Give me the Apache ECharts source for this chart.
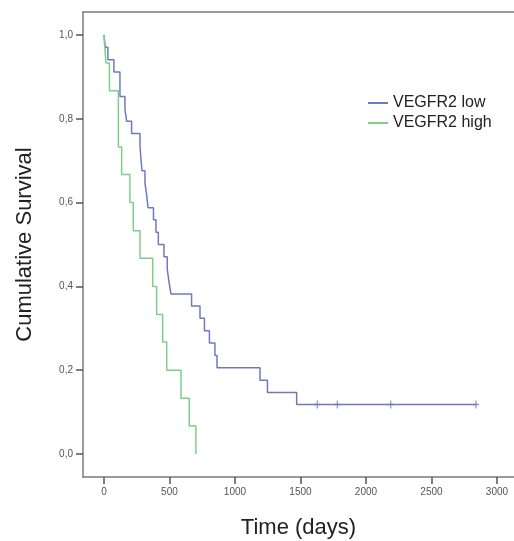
<!DOCTYPE html>
<html>
<head>
<meta charset="utf-8">
<script src="https://cdn.jsdelivr.net/npm/echarts@6/dist/echarts.min.js"></script>
<style>
  html, body { margin: 0; padding: 0; background: #fff; }
  #chart { width: 514px; height: 541px; }
</style>
</head>
<body>
<div id="chart"></div>
<script>
// Kaplan-Meier steps (time in days, cumulative survival)
const lowTimes = [0, 10, 30, 76, 122, 160, 173, 211, 275, 282, 290, 313, 326, 336, 378, 397, 415, 458, 483, 496, 511, 669, 733, 767, 805, 847, 863, 1191, 1248, 1471, 2840];
const lowSurv = [1, 0.971, 0.941, 0.912, 0.853, 0.824, 0.794, 0.765, 0.735, 0.706, 0.676, 0.647, 0.618, 0.588, 0.559, 0.529, 0.5, 0.471, 0.441, 0.412, 0.382, 0.353, 0.324, 0.294, 0.265, 0.235, 0.206, 0.176, 0.147, 0.118, 0.118];
const lowCensored = [1628, 1781, 2189, 2840];
const lowCensoredSurv = [0.118, 0.118, 0.118, 0.118];

const highTimes = [0, 15, 42, 110, 135, 198, 224, 275, 372, 402, 448, 479, 588, 651, 702];
const highSurv = [1, 0.933, 0.867, 0.733, 0.667, 0.6, 0.533, 0.467, 0.4, 0.333, 0.267, 0.2, 0.133, 0.067, 0];

const xTicks = [0, 500, 1000, 1500, 2000, 2500, 3000];
const yTicks = [0, 0.2, 0.4, 0.6, 0.8, 1.0];

const zip = (a, b) => a.map((v, i) => [v, b[i]]);

const font = 'Liberation Sans, Arial, sans-serif';
const blue = '#7079bf';
const green = '#7dcf86';
const frame = { color: '#7a7a7a', width: 1.5 };

const chart = echarts.init(document.getElementById('chart'));
chart.setOption({
  animation: false,
  textStyle: { fontFamily: font },
  grid: { left: 83, top: 12, right: 0, bottom: 64, outerBoundsMode: 'none', containLabel: false },
  legend: {
    data: ['VEGFR2 low', 'VEGFR2 high'],
    orient: 'vertical',
    left: 368,
    top: 93,
    padding: 0,
    itemGap: 0,
    icon: 'rect',
    itemWidth: 20,
    itemHeight: 2,
    textStyle: { fontSize: 16, lineHeight: 20, color: '#222', fontFamily: font }
  },
  xAxis: [
    {
      type: 'value',
      min: -160,
      max: 3130,
      name: 'Time (days)',
      nameLocation: 'middle',
      nameGap: 40,
      nameTextStyle: { fontSize: 22, color: '#222', fontFamily: font },
      splitLine: { show: false },
      axisLine: { show: true, onZero: false, lineStyle: frame },
      axisTick: { show: true, inside: false, length: 7, customValues: xTicks, lineStyle: { color: '#555', width: 1.5 } },
      axisLabel: { customValues: xTicks, fontSize: 10, color: '#555', margin: 10, formatter: v => String(v) }
    },
    {
      // top edge of the frame only
      type: 'value',
      position: 'top',
      min: -160,
      max: 3130,
      splitLine: { show: false },
      axisLine: { show: true, onZero: false, lineStyle: frame },
      axisTick: { show: false },
      axisLabel: { show: false }
    }
  ],
  yAxis: {
    type: 'value',
    min: -0.055,
    max: 1.055,
    name: 'Cumulative Survival',
    nameLocation: 'middle',
    nameGap: 47,
    nameTextStyle: { fontSize: 22, color: '#222', fontFamily: font },
    splitLine: { show: false },
    axisLine: { show: true, onZero: false, lineStyle: frame },
    axisTick: { show: true, inside: false, length: 7, customValues: yTicks, lineStyle: { color: '#555', width: 1.5 } },
    axisLabel: {
      customValues: yTicks,
      fontSize: 10,
      color: '#555',
      margin: 10,
      formatter: v => v.toFixed(1).replace('.', ',')
    }
  },
  series: [
    {
      name: 'VEGFR2 low',
      type: 'line',
      step: 'end',
      showSymbol: false,
      data: zip(lowTimes, lowSurv),
      itemStyle: { color: blue },
      lineStyle: { color: blue, width: 1.5 }
    },
    {
      name: 'VEGFR2 high',
      type: 'line',
      step: 'end',
      showSymbol: false,
      data: zip(highTimes, highSurv),
      itemStyle: { color: green },
      lineStyle: { color: green, width: 1.5 }
    },
    {
      name: 'low censored',
      type: 'scatter',
      symbol: 'path://M-0.6,-4H0.6V-0.7H3V0.7H0.6V4H-0.6V0.7H-3V-0.7H-0.6Z',
      symbolSize: [6, 8],
      data: zip(lowCensored, lowCensoredSurv),
      itemStyle: { color: blue }
    }
  ]
});
</script>
</body>
</html>
